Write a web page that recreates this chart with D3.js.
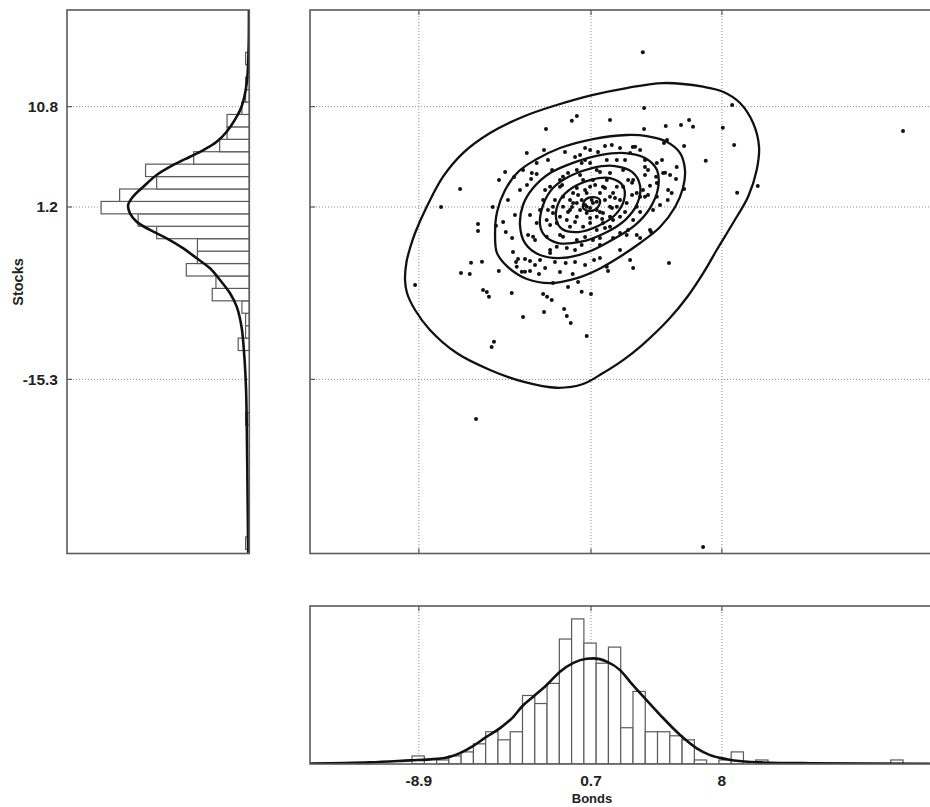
<!DOCTYPE html>
<html>
<head>
<meta charset="utf-8">
<script src="https://cdn.jsdelivr.net/npm/d3@7/dist/d3.min.js"></script>
<style>
  html, body { margin: 0; padding: 0; background: #fff; }
  svg { display: block; }
  text { font-family: "Liberation Sans", Arial, sans-serif; font-weight: bold; fill: #222; }
</style>
</head>
<body>
<svg id="chart" width="930" height="807"></svg>
<script>
// ---------------- DATA ----------------
const xTickValues = [-8.9, 0.7, 8];
const xTickLabels = ["-8.9", "0.7", "8"];
const yTickValues = [10.8, 1.2, -15.3];
const yTickLabels = ["10.8", "1.2", "-15.3"];
const xLabel = "Bonds";
const yLabel = "Stocks";

// scatter: [bonds, stocks]
const bonds = [3.59,18.10,6.95,-5.71,-9.11,-7.66,-6.60,-0.09,-0.37,-1.81,-2.88,-1.92,-2.33,-4.09,-3.09,-4.43,-3.59,-2.64,-4.78,-5.60,-5.60,-4.05,-4.60,-5.99,-5.38,-6.55,-6.06,-4.44,-3.65,-3.48,-2.33,-1.47,3.66,1.76,3.66,4.87,5.72,6.17,6.39,8.05,8.57,8.68,7.10,5.89,4.94,4.77,1.86,3.03,10.00,8.85,5.89,5.48,5.44,4.83,4.33,3.71,2.99,3.99,5.20,4.98,3.44,5.05,4.05,0.87,3.05,-5.32,-5.11,-4.99,-3.72,-3.37,-2.98,-2.70,-2.42,-3.16,-2.98,-2.70,-2.20,-3.09,-1.92,-1.97,-1.75,-1.49,-0.80,-0.65,-0.43,-0.58,-0.02,0.18,0.70,0.46,-4.71,-4.84,1.65,-0.32,-0.71,-1.42,-2.60,-0.58,0.09,0.65,0.18,0.65,1.58,2.14,3.16,2.88,3.71,4.37,3.88,4.72,4.37,3.71,3.60,4.37,4.16,3.99,3.25,2.69,1.93,0.81,0.18,-0.65,-1.21,-1.58,-2.14,-3.44,1.58,2.88,-1.03,-0.86,-0.09,0.46,0.81,1.02,1.76,1.93,1.37,0.81,0.26,-0.09,-0.47,-1.42,-1.77,-1.21,-0.47,0.26,1.02,1.76,2.32,2.69,2.49,1.76,1.02,-0.09,-0.86,-1.58,-1.97,-2.14,-2.33,-2.53,-1.77,-0.86,-0.09,1.20,2.32,3.05,3.25,3.25,3.05,2.49,0.37,0.65,0.18,0.74,1.02,0.46,-0.09,1.02,1.48,1.37,1.76,-0.47,-0.30,0.46,1.20,1.76,2.14,-0.86,-1.03,-0.65,0.65,1.37,1.93,2.32,2.14,1.58,0.65,0.09,-0.30,-1.31,-1.42,
  -3.93,-4.20,-3.70,-3.54,-3.26,-2.87,-1.70,-0.75,0.37,1.48,2.32,3.44,-0.19,1.09,4.66,5.00,4.55,5.11,-1.86,-1.03,0.37,1.20,2.32,3.44,-0.19,-1.31,-2.70,-2.81,-1.86,-1.03,0.37,2.60,3.71,3.88,3.44,2.77,1.20,-0.19,-1.58,-2.42,-1.70,-1.58,-1.03,0.37,1.48,2.60,2.99,2.77,1.20,0.09,-0.91,-0.58,-0.19,0.65,1.32,1.87,2.04,1.48,0.93,-0.02,-0.36,0.37,1.20];
const stocks = [16.0,8.47,-31.34,-19.09,-6.27,1.20,2.92,9.90,9.46,8.66,6.36,6.65,5.41,4.55,4.74,3.78,4.07,3.88,1.20,-0.43,-1.10,-1.20,-0.59,-4.13,-4.04,-5.12,-5.22,-4.93,-3.11,-4.07,4.35,4.74,10.67,9.52,8.66,8.95,9.04,9.52,8.88,8.79,10.96,7.13,5.63,7.03,7.61,7.32,7.13,6.94,3.21,2.56,2.92,5.02,3.88,4.48,4.10,5.02,3.52,3.23,2.54,1.87,2.18,-4.16,-1.20,-3.88,-4.64,-6.75,-6.94,-7.39,-7.03,-3.78,-3.78,-3.97,-4.35,-5.00,-5.00,-4.93,-5.22,-9.33,-8.85,-7.13,-7.39,-7.70,-8.57,-9.24,-9.90,-6.46,-5.98,-6.91,-7.13,-11.15,-11.69,-12.20,-4.93,-5.22,-4.16,-6.08,4.45,4.45,6.17,6.65,5.41,5.41,5.69,5.69,6.97,6.36,5.69,5.41,4.74,4.45,3.49,2.18,2.82,2.18,0.91,-1.00,-1.48,-1.48,-1.77,-1.96,-2.44,-2.73,-2.60,-3.21,-3.88,-4.52,-4.52,-3.88,3.14,2.18,1.58,1.22,1.58,0.91,1.22,2.54,3.14,3.78,3.78,3.01,0.91,0.62,-0.05,-0.33,-0.69,-0.69,-1.00,-0.69,0.27,1.58,3.14,4.45,4.74,4.74,4.10,3.14,1.87,0.91,-0.33,-1.65,-1.65,-1.65,-1.96,-1.77,-1.29,-0.05,1.22,2.54,3.78,4.74,1.39,1.10,1.87,1.87,1.70,0.62,0.27,0.27,1.87,0.62,0.27,1.87,2.54,2.54,2.54,2.18,1.22,1.22,0.27,-0.05,-0.33,-0.33,-0.05,1.87,3.14,3.78,3.14,0.91,1.58,1.87,1.22,
  1.87,-0.24,-1.77,0.43,2.82,3.30,5.69,6.46,6.84,7.03,6.84,6.65,5.98,6.46,5.69,2.82,1.39,4.26,-4.64,-5.02,-4.35,-3.68,-2.92,-1.77,-4.07,-4.07,0.43,-1.48,2.82,3.78,5.69,5.69,4.26,2.34,0.72,-1.00,-2.44,-2.92,-2.92,-1.96,0.91,-0.53,-1.48,-1.67,-0.81,0.72,2.34,3.78,4.55,4.26,3.30,0.72,-0.24,0.14,0.05,1.10,2.06,3.01,3.30,2.34,1.20,2.82,0.72];

// density contours (closed), each as bonds / stocks arrays
const contour1Bonds  = [-9.67,-9.59,-9.39,-9.11,-8.46,-7.55,-6.44,-4.93,-3.09,-1.21,0.76,2.69,4.72,6.95,8.06,9.01,9.74,10.07,9.94,9.46,8.62,7.71,7.00,6.11,5.00,3.55,2.49,1.37,0.26,-1.21,-3.09,-4.93,-6.79,-8.28,-9.11,-9.56];
const contour1Stocks = [-5.79,-4.07,-2.73,-1.29,1.22,4.10,6.36,8.28,9.84,10.96,11.91,12.58,13.06,12.71,12.23,11.15,9.24,6.97,4.74,2.18,-0.33,-2.92,-5.02,-7.32,-9.62,-12.01,-13.45,-14.69,-15.74,-16.10,-15.52,-14.40,-12.78,-10.57,-8.66,-7.03];
const contour2Bonds  = [-4.65,-4.54,-4.09,-3.37,-2.42,-1.03,0.81,2.69,3.81,4.92,5.67,5.94,5.83,5.39,4.55,3.44,2.38,1.04,-0.08,-1.58,-2.87,-3.93,-4.54];
const contour2Stocks = [-1.48,0.72,2.82,4.55,5.69,6.84,7.70,8.09,7.99,7.45,6.36,4.74,3.01,1.20,-0.72,-2.25,-3.49,-4.83,-5.60,-6.08,-5.69,-4.55,-3.21];
const contour3Bonds  = [-3.26,-3.09,-2.53,-1.58,-0.19,1.20,2.60,3.71,4.38,4.44,3.99,3.16,1.87,0.54,-0.91,-2.14,-2.98];
const contour3Stocks = [-0.53,1.39,3.01,4.45,5.50,6.17,6.36,5.89,4.74,3.01,1.10,-0.53,-1.96,-3.11,-3.68,-3.40,-2.25];
const contour4Bonds  = [-2.14,-1.97,-1.42,-0.47,0.76,2.04,2.99,3.44,3.27,2.60,1.48,0.09,-1.14,-1.86];
const contour4Stocks = [-0.53,1.39,3.01,4.16,4.93,5.12,4.55,3.21,1.48,-0.05,-1.29,-2.15,-2.25,-1.58];
const contour5Bonds  = [-1.25,-1.03,-0.36,0.65,1.76,2.49,2.54,2.04,1.09,-0.02,-0.91];
const contour5Stocks = [0.14,1.87,3.01,3.78,3.97,3.21,1.87,0.43,-0.62,-1.20,-0.91];
const contour6Bonds  = [0.26,0.37,0.81,1.20,1.09,0.65];
const contour6Stocks = [1.10,1.87,2.15,1.87,1.20,0.81];

// histograms: 40 equal bins each
const bondsBinStart = -9.28, bondsBinWidth = 0.6845;
const bondsCounts = [2,0,1,2,3,5,8,6,8,17,15,20,31,36,30,25,29,9,18,8,8,7,6,1,0,1,3,0,1,0,0,0,0,0,0,0,0,0,0,1];
const stocksBinStart = -31.56, stocksBinWidth = 1.189;
const stocksCounts = [1,0,0,0,0,0,0,0,0,0,1,0,0,0,0,0,3,1,1,2,10,9,17,14,14,25,30,40,35,25,28,15,8,6,6,2,1,1,0,1];

// fitted density curves (value, expected count)
const bondsCurveX = [-14.96,-11.63,-9.39,-8.09,-7.16,-6.61,-5.86,-5.11,-4.37,-3.63,-3.16,-2.52,-1.77,-1.03,-0.28,0.46,0.83,1.58,2.32,2.88,3.62,4.55,5.67,6.60,7.34,8.27,10.13,12.92,19.6];
const bondsCurveY = [0.1,0.4,0.9,1.2,1.8,2.7,4.5,6.8,8.9,11.7,14.2,16.7,19.6,22.9,25.1,26.1,26.2,25.4,23.3,20.4,16.7,12.2,7.2,3.9,2.2,1.2,0.4,0.2,0.05];
const stocksCurveY = [20.05,16.22,13.03,10.79,9.84,8.40,7.45,6.65,6.01,5.22,4.26,3.14,2.18,1.39,0.59,-0.21,-1.00,-1.80,-2.76,-3.71,-4.67,-5.79,-7.06,-8.34,-10.26,-12.80,-16.0,-19.2,-25.2,-31.9];
const stocksCurveX = [0.1,0.2,0.7,2.1,3.4,6.1,8.8,12.4,16.0,20.5,25.0,28.6,31.4,32.7,32.2,30.4,26.8,22.3,17.8,14.2,10.6,7.9,5.2,3.4,2.1,1.4,0.9,0.7,0.5,0.3];

// ---------------- LAYOUT ----------------
const svg = d3.select("#chart");
const main = {l: 310, r: 931, t: 10, b: 553.5};
const bottom = {l: 310, r: 931, t: 606, b: 764};
const left = {l: 67, r: 249.3, t: 10, b: 553.5};

const x = d3.scaleLinear().domain([-14.97, 19.66]).range([main.l, main.r]);
const y = d3.scaleLinear().domain([-31.96, 20.05]).range([main.b, main.t]);
const hy = d3.scaleLinear().domain([0, 39.2]).range([bottom.b, bottom.t]);
const hx = d3.scaleLinear().domain([0, 49.2]).range([left.r, left.l]);

const axisColor = "#5a5a5a";
const gridColor = "#8a8a8a";

function clip(id, box) {
  svg.append("clipPath").attr("id", id).append("rect")
    .attr("x", box.l).attr("y", box.t).attr("width", box.r - box.l).attr("height", box.b - box.t);
}
clip("cMain", main); clip("cBottom", bottom); clip("cLeft", left);

function box(b) {
  svg.append("rect").attr("x", b.l).attr("y", b.t).attr("width", b.r - b.l).attr("height", b.b - b.t)
    .attr("fill", "none").attr("stroke", axisColor).attr("stroke-width", 1.6);
}

// ---------- grid lines ----------
function vgrid(b) {
  svg.append("g").selectAll("line").data(xTickValues).join("line")
    .attr("x1", d => x(d)).attr("x2", d => x(d)).attr("y1", b.t).attr("y2", b.b)
    .attr("stroke", gridColor).attr("stroke-width", 1).attr("stroke-dasharray", "1,2");
  svg.append("g").selectAll("line").data(xTickValues).join("line")
    .attr("x1", d => x(d)).attr("x2", d => x(d)).attr("y1", b.t).attr("y2", b.t + 5)
    .attr("stroke", axisColor).attr("stroke-width", 1.2);
  svg.append("g").selectAll("line").data(xTickValues).join("line")
    .attr("x1", d => x(d)).attr("x2", d => x(d)).attr("y1", b.b).attr("y2", b.b - 5)
    .attr("stroke", axisColor).attr("stroke-width", 1.2);
}
function hgrid(b) {
  svg.append("g").selectAll("line").data(yTickValues).join("line")
    .attr("x1", b.l).attr("x2", b.r).attr("y1", d => y(d)).attr("y2", d => y(d))
    .attr("stroke", gridColor).attr("stroke-width", 1).attr("stroke-dasharray", "1,2");
  svg.append("g").selectAll("line").data(yTickValues).join("line")
    .attr("x1", b.l).attr("x2", b.l + 5).attr("y1", d => y(d)).attr("y2", d => y(d))
    .attr("stroke", axisColor).attr("stroke-width", 1.2);
}
vgrid(main); hgrid(main);
vgrid(bottom);
hgrid(left);

// ---------- scatter ----------
const gMain = svg.append("g").attr("clip-path", "url(#cMain)");
gMain.selectAll("circle").data(d3.range(bonds.length)).join("circle")
  .attr("cx", i => x(bonds[i])).attr("cy", i => y(stocks[i])).attr("r", 2).attr("fill", "#111");

const contours = [
  [contour1Bonds, contour1Stocks], [contour2Bonds, contour2Stocks], [contour3Bonds, contour3Stocks],
  [contour4Bonds, contour4Stocks], [contour5Bonds, contour5Stocks], [contour6Bonds, contour6Stocks]
];
const cLine = d3.line().x(d => x(d[0])).y(d => y(d[1])).curve(d3.curveCatmullRomClosed.alpha(0.5));
gMain.selectAll("path.contour").data(contours).join("path")
  .attr("class", "contour")
  .attr("d", c => cLine(c[0].map((v, i) => [v, c[1][i]])))
  .attr("fill", "none").attr("stroke", "#111").attr("stroke-width", 2.3);

// ---------- bottom histogram ----------
const gBot = svg.append("g").attr("clip-path", "url(#cBottom)");
gBot.selectAll("rect").data(bondsCounts).join("rect")
  .attr("x", (d, i) => x(bondsBinStart + i * bondsBinWidth))
  .attr("width", (d, i) => x(bondsBinStart + (i + 1) * bondsBinWidth) - x(bondsBinStart + i * bondsBinWidth))
  .attr("y", d => hy(d)).attr("height", d => hy(0) - hy(d))
  .attr("fill", "#fff").attr("stroke", axisColor).attr("stroke-width", 1.2);
const bLine = d3.line().x((d, i) => x(bondsCurveX[i])).y(d => hy(d)).curve(d3.curveMonotoneX);
gBot.append("path").attr("d", bLine(bondsCurveY)).attr("fill", "none").attr("stroke", "#111").attr("stroke-width", 2.6);

// ---------- left histogram ----------
const gLeft = svg.append("g").attr("clip-path", "url(#cLeft)");
gLeft.selectAll("rect").data(stocksCounts).join("rect")
  .attr("y", (d, i) => y(stocksBinStart + (i + 1) * stocksBinWidth))
  .attr("height", (d, i) => y(stocksBinStart + i * stocksBinWidth) - y(stocksBinStart + (i + 1) * stocksBinWidth))
  .attr("x", d => hx(d)).attr("width", d => hx(0) - hx(d))
  .attr("fill", "#fff").attr("stroke", axisColor).attr("stroke-width", 1.2);
const sLine = d3.line().x(d => hx(d)).y((d, i) => y(stocksCurveY[i])).curve(d3.curveCatmullRom);
gLeft.append("path").attr("d", sLine(stocksCurveX)).attr("fill", "none").attr("stroke", "#111").attr("stroke-width", 2.6);

box(main); box(bottom); box(left);

// ---------- labels ----------
svg.append("g").selectAll("text").data(xTickValues).join("text")
  .attr("x", d => x(d)).attr("y", 786).attr("text-anchor", "middle").attr("font-size", 15.5)
  .text((d, i) => xTickLabels[i]);
svg.append("g").selectAll("text").data(yTickValues).join("text")
  .attr("x", 58).attr("y", d => y(d) + 5.5).attr("text-anchor", "end").attr("font-size", 15.5)
  .text((d, i) => yTickLabels[i]);
svg.append("text").attr("x", 592).attr("y", 803).attr("text-anchor", "middle").attr("font-size", 13).text(xLabel);
svg.append("text").attr("transform", "translate(23,282) rotate(-90)").attr("text-anchor", "middle").attr("font-size", 14.5).text(yLabel);
</script>
</body>
</html>
